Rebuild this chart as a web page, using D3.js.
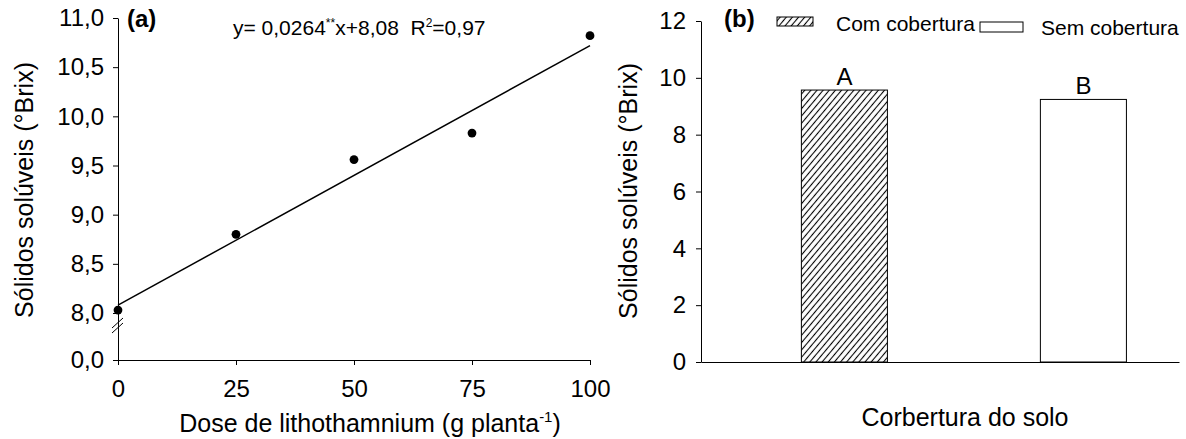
<!DOCTYPE html>
<html><head><meta charset="utf-8">
<script src="https://cdn.jsdelivr.net/npm/d3@7"></script>
<style>
body{margin:0;background:#fff}
text{font-family:"Liberation Sans",Arial,sans-serif;fill:#000}
</style>
</head><body>
<svg id="c" width="1186" height="439"></svg>
<script>
// ---------- data ----------
const doses = [0, 25, 50, 75, 100];
const brixA = [8.03, 8.80, 9.56, 9.83, 10.82];
const fitX = [0, 100];
const fitY = [8.08, 10.72];
const xTicksA = [0, 25, 50, 75, 100];
const yTicksA = [0, 8, 8.5, 9, 9.5, 10, 10.5, 11];

const coverCats = ["Com cobertura", "Sem cobertura"];
const coverVals = [9.57, 9.24];
const coverLetters = ["A", "B"];
const yTicksB = [0, 2, 4, 6, 8, 10, 12];

// ---------- setup ----------
const svg = d3.select("#c");
const defs = svg.append("defs");
const pat = defs.append("pattern").attr("id","hatch")
  .attr("patternUnits","userSpaceOnUse").attr("width",4.7).attr("height",4.7)
  .attr("patternTransform","rotate(40)");
pat.append("rect").attr("width",4.7).attr("height",4.7).attr("fill","#fff");
pat.append("line").attr("x1",2.35).attr("y1",0).attr("x2",2.35).attr("y2",4.7)
  .attr("stroke","#000").attr("stroke-width",1.1);

const comma = d => d3.format(".1f")(d).replace(".", ",");
const styleAxis = (g, fs) => {
  g.selectAll("path,line").attr("stroke","#000").attr("stroke-width",1);
  g.selectAll("text").style("font-size", fs + "px").attr("fill","#000")
    .style("font-family",'"Liberation Sans",Arial,sans-serif');
};

// ---------- panel (a) ----------
const xA = d3.scaleLinear().domain([0, 100]).range([118, 590]);
const yA = d3.scaleLinear().domain([0, 8, 11]).range([360, 313, 18]);

svg.append("g").attr("transform","translate(0,360)")
  .call(d3.axisBottom(xA).tickValues(xTicksA).tickSize(5).tickSizeOuter(0).tickPadding(15))
  .call(g => styleAxis(g, 24));
svg.append("g").attr("transform","translate(118,0)")
  .call(d3.axisLeft(yA).tickValues(yTicksA).tickFormat(comma).tickSize(5).tickSizeOuter(0).tickPadding(9))
  .call(g => styleAxis(g, 24));

// axis break marks
[0, 5].forEach(o => {
  svg.append("line").attr("x1",112).attr("y1",328 + o).attr("x2",123).attr("y2",318 + o)
    .attr("stroke","#000").attr("stroke-width",1);
});

// regression line
svg.append("path")
  .attr("d", d3.line().x((d,i)=>xA(fitX[i])).y(d=>yA(d))(fitY))
  .attr("fill","none").attr("stroke","#000").attr("stroke-width",1.5);

// points
svg.selectAll("circle.pt").data(doses).join("circle").attr("class","pt")
  .attr("cx", d => xA(d)).attr("cy", (d,i) => yA(brixA[i])).attr("r", 4.4).attr("fill","#000");

svg.append("text").attr("x",127).attr("y",27).style("font-size","24px").style("font-weight","bold").text("(a)");

const eq = svg.append("text").attr("x",233).attr("y",35).style("font-size","21px");
eq.append("tspan").text("y= 0,0264");
eq.append("tspan").attr("dy",-8).style("font-size","12px").text("**");
eq.append("tspan").attr("dy",8).text("x+8,08  R");
eq.append("tspan").attr("dy",-8).style("font-size","12px").text("2");
eq.append("tspan").attr("dy",8).text("=0,97");
eq.attr("xml:space","preserve");

svg.append("text").attr("transform","translate(24,190) rotate(-90)").attr("dy","0.35em")
  .attr("text-anchor","middle").style("font-size","25px").text("Sólidos solúveis (°Brix)");

const xt = svg.append("text").attr("x",370).attr("y",432).attr("text-anchor","middle").style("font-size","25px");
xt.append("tspan").text("Dose de lithothamnium (g planta");
xt.append("tspan").attr("dy",-10).style("font-size","15px").text("-1");
xt.append("tspan").attr("dy",10).text(")");

// ---------- panel (b) ----------
const xB = d3.scaleLinear().domain([0.4, 2.4]).range([701, 1179]);
const yB = d3.scaleLinear().domain([0, 12]).range([362, 21]);
const bw = 0.36;

svg.append("g").attr("transform","translate(701,0)")
  .call(d3.axisLeft(yB).tickValues(yTicksB).tickSize(5).tickSizeOuter(0).tickPadding(10))
  .call(g => styleAxis(g, 24));
svg.append("g").attr("transform","translate(0,362)")
  .call(d3.axisBottom(xB).tickValues([]).tickSizeOuter(0))
  .call(g => styleAxis(g, 24));

svg.selectAll("rect.bar").data(coverVals).join("rect").attr("class","bar")
  .attr("x", (d,i) => xB(i + 1 - bw/2))
  .attr("width", (d,i) => xB(i + 1 + bw/2) - xB(i + 1 - bw/2))
  .attr("y", d => yB(d)).attr("height", d => yB(0) - yB(d))
  .attr("fill", (d,i) => i === 0 ? "url(#hatch)" : "#fff")
  .attr("stroke","#000").attr("stroke-width",1);

svg.selectAll("text.let").data(coverLetters).join("text").attr("class","let")
  .attr("x", (d,i) => xB(i + 1)).attr("y", (d,i) => yB(coverVals[i]) - 5)
  .attr("text-anchor","middle").style("font-size","24px").text(d => d);

svg.append("text").attr("x",724).attr("y",27).style("font-size","24px").style("font-weight","bold").text("(b)");

// legend
svg.append("rect").attr("x",777).attr("y",17).attr("width",36).attr("height",9)
  .attr("fill","url(#hatch)").attr("stroke","#000").attr("stroke-width",1);
svg.append("text").attr("x",836).attr("y",31).style("font-size","21px").text(coverCats[0]);
svg.append("rect").attr("x",980).attr("y",22).attr("width",43).attr("height",10)
  .attr("fill","#fff").attr("stroke","#000").attr("stroke-width",1);
svg.append("text").attr("x",1041).attr("y",35).style("font-size","21px").text(coverCats[1]);

svg.append("text").attr("transform","translate(628,191) rotate(-90)").attr("dy","0.35em")
  .attr("text-anchor","middle").style("font-size","25px").text("Sólidos solúveis (°Brix)");
svg.append("text").attr("x",965).attr("y",426).attr("text-anchor","middle")
  .style("font-size","25px").text("Corbertura do solo");
</script>
</body></html>
